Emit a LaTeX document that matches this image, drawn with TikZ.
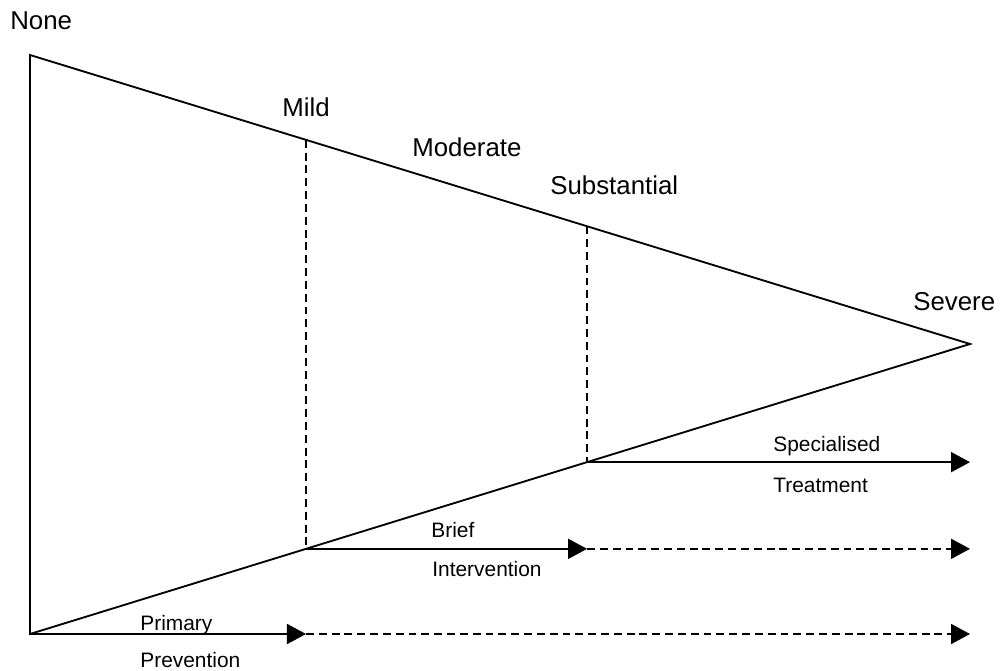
\documentclass[tikz,border=0pt]{standalone}
\usepackage{fontspec}
\setmainfont{Liberation Sans}
\usepackage{tikz}
\usetikzlibrary{arrows.meta,calc}

\begin{document}
\begin{tikzpicture}[
  x=0.02cm, y=-0.02cm,
  edge/.style={line width=1.05pt},
  guide/.style={line width=1.05pt, dash pattern=on 4.5pt off 2.8pt},
  flow/.style={line width=1.05pt, -{Triangle[length=0.38cm,width=0.4cm]}},
  lvl/.style={font=\fontsize{14.7}{16}\selectfont, anchor=base west, inner sep=0pt},
  svc/.style={font=\fontsize{11.9}{13}\selectfont, anchor=base west, inner sep=0pt},
]
\useasboundingbox (0,0) rectangle (1000,671);
% triangle corners and cut points
\coordinate (top) at (30,55);
\coordinate (bot) at (30,634);
\coordinate (tip) at (970,344);
\coordinate (mildtop) at ($(top)!0.2936!(tip)$);
\coordinate (mildbot) at ($(bot)!0.2936!(tip)$);
\coordinate (subtop) at ($(top)!0.5926!(tip)$);
\coordinate (subbot) at ($(bot)!0.5926!(tip)$);
\draw[edge] (top) -- (tip) -- (bot) -- cycle;
\draw[guide] (mildtop) -- (mildbot);
\draw[guide] (subtop) -- (subbot);
% levels
\node[lvl] (none) at (10,30) {None};
\node[lvl] (mild) at (282,117) {Mild};
\node[lvl] (moderate) at (412,157) {Moderate};
\node[lvl] (subst) at (550,195) {Substantial};
\node[lvl] (severe) at (913,311) {Severe};
% services
\draw[flow] (subbot) -- (subbot -| tip);
\draw[flow] (mildbot) -- (mildbot -| subbot);
\draw[guide, flow] (mildbot -| subbot) -- (mildbot -| tip);
\draw[flow] (bot) -- (bot -| mildbot);
\draw[guide, flow] (bot -| mildbot) -- (bot -| tip);
\node[svc] (spec) at (773,452) {Specialised};
\node[svc] (treat) at (773,493) {Treatment};
\node[svc] (brief) at (431,538) {Brief};
\node[svc] (interv) at (432,577) {Intervention};
\node[svc] (prim) at (140,630) {Primary};
\node[svc] (prev) at (140,667) {Prevention};
\end{tikzpicture}
\end{document}
